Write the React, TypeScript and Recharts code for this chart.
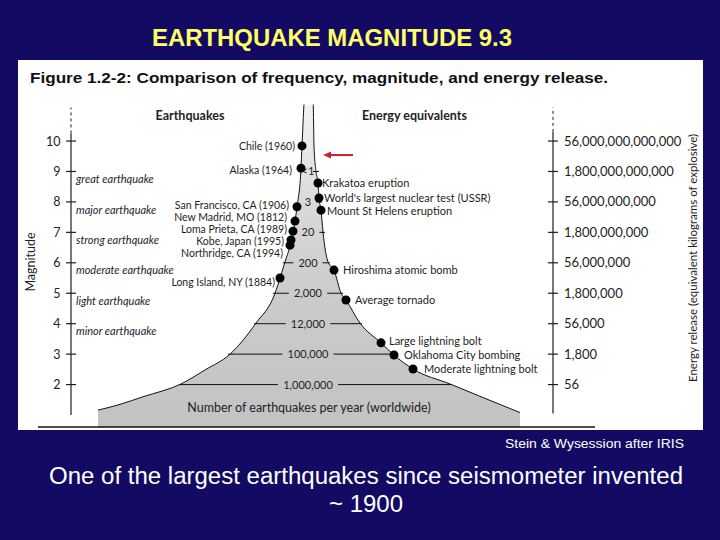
import React from 'react';
import { ComposedChart, Area, Scatter, XAxis, YAxis, ReferenceLine } from 'recharts';

// ---------- data ----------
// magnitude axis
const magnitudeTicks = [2, 3, 4, 5, 6, 7, 8, 9, 10];
const energyTickLabels = [
  '56',
  '1,800',
  '56,000',
  '1,800,000',
  '56,000,000',
  '1,800,000,000',
  '56,000,000,000',
  '1,800,000,000,000',
  '56,000,000,000,000',
];

// outline of the frequency "peak": horizontal position (relative to the peak) and magnitude
const profilePosition = [
  -215, -193, -170, -132, -108, -83, -57, -38, -33, -28, -23, -22, -20, -18, -16, -12, -11, -8,
  0, 1, 3, 5, 6, 8, 10, 15, 21, 28, 33, 47, 68, 81, 100, 137, 174, 207,
];
const profileMagnitude = [
  1.16, 1.35, 1.6, 2.02, 2.48, 3.0, 4.02, 5.0, 5.5, 6.03, 6.58, 6.75, 7.04, 7.37, 7.84, 9.11, 9.84, 11.5,
  11.5, 9.84, 9.0, 8.62, 8.13, 7.73, 7.01, 6.03, 5.76, 5.01, 4.78, 4.02, 3.37, 2.97, 2.51, 2.02, 1.52, 1.08,
];

// number of earthquakes per year at each magnitude
const frequencyMagnitude = [2, 3, 4, 5, 6, 7, 8, 9];
const frequencyLabels = ['1,000,000', '100,000', '12,000', '2,000', '200', '20', '3', '<1'];
const frequencyLeftEdge = [-132, -83, -57, -38, -28, -20, -16, -12];
const frequencyRightEdge = [137, 80, 47, 28, 15, 10, 6, 3];

// earthquakes (left of the peak)
const quakeNames = [
  'Chile (1960)',
  'Alaska (1964)',
  'San Francisco, CA (1906)',
  'New Madrid, MO (1812)',
  'Loma Prieta, CA (1989)',
  'Kobe, Japan (1995)',
  'Northridge, CA (1994)',
  'Long Island, NY (1884)',
];
const quakePosition = [-11, -12, -16, -18, -20, -22, -23, -33];
const quakeMagnitude = [9.84, 9.11, 7.84, 7.37, 7.04, 6.75, 6.58, 5.5];

// energy equivalents (right of the peak)
const energyNames = [
  'Krakatoa eruption',
  "World's largest nuclear test (USSR)",
  'Mount St Helens eruption',
  'Hiroshima atomic bomb',
  'Average tornado',
  'Large lightning bolt',
  'Oklahoma City bombing',
  'Moderate lightning bolt',
];
const energyPosition = [5, 6, 8, 21, 33, 68, 81, 100];
const energyMagnitude = [8.62, 8.13, 7.73, 5.76, 4.78, 3.37, 2.97, 2.51];

// descriptive classes
const classNames = [
  'great earthquake',
  'major earthquake',
  'strong earthquake',
  'moderate earthquake',
  'light earthquake',
  'minor earthquake',
];
const classMagnitude = [8.75, 7.73, 6.75, 5.76, 4.74, 3.76];

// Sumatra 2004 marker
const markerMagnitude = 9.54;
const markerFrom = 40;
const markerTo = 10;

// ---------- layout / style ----------
const NAVY = '#130b63';
const INK = '#1e1e1e';
const FONT = 'Lato, "Open Sans", sans-serif';
const X_DOMAIN: [number, number] = [-242, 240];
const Y_DOMAIN: [number, number] = [0.6, 11.2];
const CLASS_X = -237;
const FREQ_CENTER_X = -5;
const quakeLabelNudge = [
  [-7, 0], [-9, 2], [-8, -2], [-8, -4], [-6, -2], [-7, 1], [-7, 8], [-5, 4],
];
const energyLabelNudge = [
  [4, 0], [5, 0], [6, 1], [9, 0], [9, 0], [8, -2], [10, 0], [11, 0],
];

const charWidth = (c: string) => (c === ',' ? 2.6 : c === '<' ? 6.2 : 6.4);
const textWidth = (s: string) => s.split('').reduce((a, c) => a + charWidth(c), 0);

const LeftTick = (p: any) => (
  <g>
    <line x1={p.x - 5} x2={p.x + 5} y1={p.y} y2={p.y} stroke={INK} strokeWidth={1.2} />
    <text x={p.x - 10.5} y={p.y} dy={4.5} textAnchor="end" fontSize={12.5} fontFamily={FONT} fill={INK}>
      {p.payload.value}
    </text>
  </g>
);

const RightTick = (p: any) => {
  const idx = magnitudeTicks.indexOf(p.payload.value);
  return (
    <g>
      <line x1={p.x - 5} x2={p.x + 5} y1={p.y} y2={p.y} stroke={INK} strokeWidth={1.2} />
      <text x={p.x + 11} y={p.y} dy={4.5} textAnchor="start" fontSize={13} fontFamily={FONT} fill={INK}>
        {idx >= 0 ? energyTickLabels[idx] : ''}
      </text>
    </g>
  );
};

const QuakeDot = (p: any) => {
  const n = quakeLabelNudge[p.payload.i];
  return (
    <g>
      <circle cx={p.cx} cy={p.cy} r={4.5} fill="#000" />
      <text x={p.cx + n[0]} y={p.cy + n[1]} dy={3.8} textAnchor="end" fontSize={10.5} fontFamily={FONT} fill={INK}>
        {p.payload.name}
      </text>
    </g>
  );
};

const EnergyDot = (p: any) => {
  const n = energyLabelNudge[p.payload.i];
  return (
    <g>
      <circle cx={p.cx} cy={p.cy} r={4.5} fill="#000" />
      <text x={p.cx + n[0]} y={p.cy + n[1]} dy={4} textAnchor="start" fontSize={11} fontFamily={FONT} fill={INK}>
        {p.payload.name}
      </text>
    </g>
  );
};

const ClassLabel = (p: any) => (
  <text x={p.cx} y={p.cy} dy={4} textAnchor="start" fontSize={11} fontStyle="italic" fontFamily={FONT} fill={INK}>
    {p.payload.name}
  </text>
);

const FreqLabel = (p: any) => (
  <text x={p.cx} y={p.cy} dy={4} textAnchor="middle" fontSize={11} fontFamily={FONT} fill={INK}>
    {p.payload.label}
  </text>
);

const ArrowShape = (p: any) => {
  const { x1, y1, x2, y2 } = p;
  return (
    <g>
      <line x1={x1} y1={y1} x2={x2 + 6} y2={y2} stroke="#c4262b" strokeWidth={2} />
      <polygon points={`${x2},${y2} ${x2 + 8},${y2 - 3.5} ${x2 + 8},${y2 + 3.5}`} fill="#c4262b" />
    </g>
  );
};

export default function App() {
  const profile = profilePosition.map((x, i) => ({ x, mag: profileMagnitude[i] }));
  const quakes = quakeNames.map((name, i) => ({ x: quakePosition[i], mag: quakeMagnitude[i], name, i }));
  const energy = energyNames.map((name, i) => ({ x: energyPosition[i], mag: energyMagnitude[i], name, i }));
  const classes = classNames.map((name, i) => ({ x: CLASS_X, mag: classMagnitude[i], name }));
  const freqs = frequencyLabels.map((label, i) => ({ x: FREQ_CENTER_X, mag: frequencyMagnitude[i], label }));

  // line pieces beside each frequency label, from the outline to the text
  const freqSegments: { a: number; b: number; mag: number }[] = [];
  frequencyLabels.forEach((label, i) => {
    const half = textWidth(label) / 2;
    const gap = 5;
    const mag = frequencyMagnitude[i];
    const l0 = frequencyLeftEdge[i] - 2;
    const l1 = FREQ_CENTER_X - half - gap;
    if (l1 - l0 >= 5) freqSegments.push({ a: l0, b: l1, mag });
    const r0 = FREQ_CENTER_X + half + gap;
    const r1 = frequencyRightEdge[i] + 2;
    if (r1 - r0 >= 5) freqSegments.push({ a: r0, b: r1, mag });
    else freqSegments.push({ a: frequencyRightEdge[i] - 3, b: frequencyRightEdge[i] + 3, mag });
  });

  return (
    <div style={{ position: 'relative', width: 720, height: 540, background: NAVY, overflow: 'hidden' }}>
      <style>{'body{margin:0;}'}</style>
      <svg width={720} height={540} style={{ position: 'absolute', left: 0, top: 0 }}>
        <rect x={0} y={0} width={720} height={540} fill={NAVY} />
        <text
          x={152}
          y={45.5}
          fontSize={23}
          fontWeight="bold"
          fontFamily='"Liberation Sans", Arial, sans-serif'
          fill="#ffff66"
          textLength={360}
          lengthAdjust="spacingAndGlyphs"
        >
          EARTHQUAKE MAGNITUDE 9.3
        </text>
        <rect x={18} y={60} width={685} height={370} fill="#ffffff" />
        <text
          x={30}
          y={83}
          fontSize={14}
          fontWeight="bold"
          fontFamily='"Liberation Sans", Arial, sans-serif'
          fill="#111"
          textLength={578}
          lengthAdjust="spacingAndGlyphs"
        >
          Figure 1.2-2: Comparison of frequency, magnitude, and energy release.
        </text>
        <text x={190} y={119.5} textAnchor="middle" fontSize={12.5} fontWeight="bold" fontFamily={FONT} fill={INK}>
          Earthquakes
        </text>
        <text x={362} y={119.5} textAnchor="start" fontSize={12.5} fontWeight="bold" fontFamily={FONT} fill={INK}>
          Energy equivalents
        </text>
        <text
          transform="translate(34.5,262) rotate(-90)"
          textAnchor="middle"
          fontSize={12.5}
          fontFamily={FONT}
          fill={INK}
        >
          Magnitude
        </text>
        <text
          transform="translate(697,258) rotate(-90)"
          textAnchor="middle"
          fontSize={11.5}
          fontFamily={FONT}
          fill={INK}
        >
          Energy release (equivalent kilograms of explosive)
        </text>
        <text
          x={684}
          y={448}
          textAnchor="end"
          fontSize={12}
          fontFamily='"Liberation Sans", Arial, sans-serif'
          fill="#ffffff"
          textLength={179}
          lengthAdjust="spacingAndGlyphs"
        >
          Stein &amp; Wysession after IRIS
        </text>
        <text
          x={49}
          y={484}
          fontSize={23}
          fontFamily='"Liberation Sans", Arial, sans-serif'
          fill="#ffffff"
          textLength={634}
          lengthAdjust="spacingAndGlyphs"
        >
          One of the largest earthquakes since seismometer invented
        </text>
        <text
          x={329}
          y={512}
          fontSize={23}
          fontFamily='"Liberation Sans", Arial, sans-serif'
          fill="#ffffff"
          textLength={74}
          lengthAdjust="spacingAndGlyphs"
        >
          ~ 1900
        </text>
      </svg>

      <div style={{ position: 'absolute', left: 0, top: 0 }}>
        <ComposedChart
          width={720}
          height={540}
          data={profile}
          margin={{ top: 104.5, right: 0, bottom: 112.8, left: 0 }}
        >
          <defs>
            <linearGradient id="quakeFill" gradientUnits="userSpaceOnUse" x1="0" y1="104" x2="0" y2="427">
              <stop offset="0" stopColor="#f3f3f3" />
              <stop offset="0.3" stopColor="#dadada" />
              <stop offset="0.6" stopColor="#cbcbcb" />
              <stop offset="1" stopColor="#c3c3c3" />
            </linearGradient>
          </defs>
          <XAxis type="number" dataKey="x" domain={X_DOMAIN} hide allowDataOverflow />
          <YAxis
            yAxisId="left"
            type="number"
            dataKey="mag"
            domain={Y_DOMAIN}
            ticks={magnitudeTicks}
            interval={0}
            width={71}
            tickSize={0}
            tickMargin={0}
            axisLine={false}
            tickLine={false}
            allowDataOverflow
            tick={(p: any) => <LeftTick {...p} />}
          />
          <YAxis
            yAxisId="right"
            orientation="right"
            type="number"
            dataKey="mag"
            domain={Y_DOMAIN}
            ticks={magnitudeTicks}
            interval={0}
            width={167}
            tickSize={0}
            tickMargin={0}
            axisLine={false}
            tickLine={false}
            allowDataOverflow
            tick={(p: any) => <RightTick {...p} />}
          />
          <Area
            yAxisId="left"
            type="monotone"
            dataKey="mag"
            fill="url(#quakeFill)"
            fillOpacity={1}
            stroke="#111"
            strokeWidth={1}
            dot={false}
            activeDot={false}
            isAnimationActive={false}
          />
          {/* axis lines: solid part and dashed continuation */}
          <ReferenceLine
            yAxisId="left"
            segment={[{ x: X_DOMAIN[0], y: 1 }, { x: X_DOMAIN[0], y: 10.25 }]}
            stroke={INK}
            strokeWidth={1.2}
          />
          <ReferenceLine
            yAxisId="left"
            segment={[{ x: X_DOMAIN[0], y: 10.25 }, { x: X_DOMAIN[0], y: 11.1 }]}
            stroke={INK}
            strokeWidth={1}
            strokeDasharray="3 3"
          />
          <ReferenceLine
            yAxisId="left"
            segment={[{ x: X_DOMAIN[1], y: 1.05 }, { x: X_DOMAIN[1], y: 10.3 }]}
            stroke={INK}
            strokeWidth={1.2}
          />
          <ReferenceLine
            yAxisId="left"
            segment={[{ x: X_DOMAIN[1], y: 10.3 }, { x: X_DOMAIN[1], y: 11.1 }]}
            stroke={INK}
            strokeWidth={1}
            strokeDasharray="3 3"
          />
          {freqSegments.map((s, i) => (
            <ReferenceLine
              key={'f' + i}
              yAxisId="left"
              segment={[{ x: s.a, y: s.mag }, { x: s.b, y: s.mag }]}
              stroke="#111"
              strokeWidth={1}
            />
          ))}
          <ReferenceLine
            yAxisId="left"
            segment={[{ x: markerFrom, y: markerMagnitude }, { x: markerTo, y: markerMagnitude }]}
            shape={(p: any) => <ArrowShape {...p} />}
          />
          <Scatter yAxisId="left" data={freqs} dataKey="mag" shape={(p: any) => <FreqLabel {...p} />} isAnimationActive={false} />
          <Scatter yAxisId="left" data={classes} dataKey="mag" shape={(p: any) => <ClassLabel {...p} />} isAnimationActive={false} />
          <Scatter yAxisId="left" data={quakes} dataKey="mag" shape={(p: any) => <QuakeDot {...p} />} isAnimationActive={false} />
          <Scatter yAxisId="left" data={energy} dataKey="mag" shape={(p: any) => <EnergyDot {...p} />} isAnimationActive={false} />
        </ComposedChart>
      </div>

      <svg width={720} height={540} style={{ position: 'absolute', left: 0, top: 0, pointerEvents: 'none' }}>
        <text x={309} y={411.5} textAnchor="middle" fontSize={12.5} fontFamily={FONT} fill={INK}>
          Number of earthquakes per year (worldwide)
        </text>
        <line x1={38} x2={595} y1={427} y2={427} stroke="#111" strokeWidth={1.5} />
      </svg>
    </div>
  );
}
